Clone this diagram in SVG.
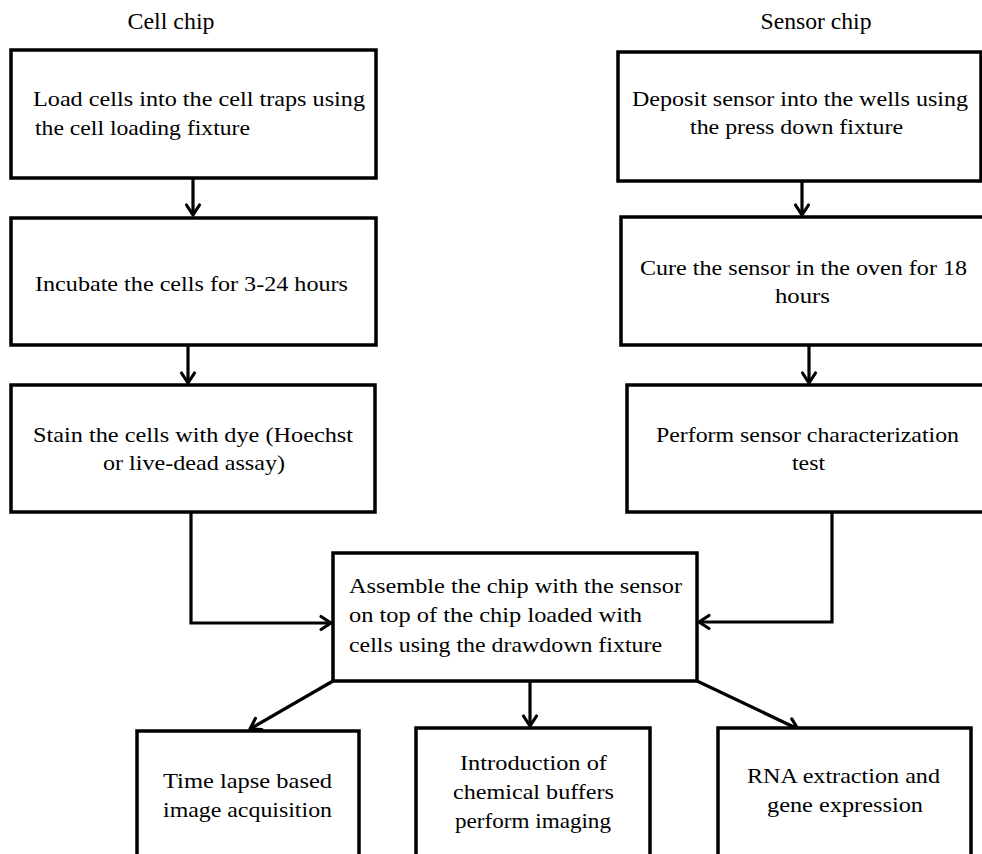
<svg xmlns="http://www.w3.org/2000/svg" width="982" height="854" viewBox="0 0 982 854">
<style>
.box{fill:#fff;stroke:#000;stroke-width:3.5}
.t{font-family:"Liberation Serif","Times New Roman",serif;font-size:22px;fill:#000}
.h{font-size:24px}
.c{text-anchor:middle}
.con{fill:none;stroke:#000;stroke-width:3.2}
</style>
<defs>
<marker id="arr" markerUnits="userSpaceOnUse" markerWidth="18" markerHeight="18" refX="13" refY="9" orient="auto">
<path d="M3,2.5 L13,9 L3,15.5" fill="none" stroke="#000" stroke-width="3.2" stroke-linecap="round" stroke-linejoin="round"/>
</marker>
</defs>
<rect width="982" height="854" fill="#fff"/>
<text class="t h c" x="171" y="29" textLength="87" lengthAdjust="spacingAndGlyphs">Cell chip</text>
<text class="t h c" x="816" y="29" textLength="111" lengthAdjust="spacingAndGlyphs">Sensor chip</text>
<g id="connectors">
<path class="con" d="M193,178 L193,215" marker-end="url(#arr)"/>
<path class="con" d="M188,345 L188,383" marker-end="url(#arr)"/>
<path class="con" d="M802,181 L802,215" marker-end="url(#arr)"/>
<path class="con" d="M809,345 L809,383" marker-end="url(#arr)"/>
<path class="con" d="M191,512 L191,623 L331,623" marker-end="url(#arr)"/>
<path class="con" d="M832,512 L832,622 L699,622" marker-end="url(#arr)"/>
<path class="con" d="M333,681 L250,729" marker-end="url(#arr)"/>
<path class="con" d="M530,681 L530,726" marker-end="url(#arr)"/>
<path class="con" d="M697,681 L798,729" marker-end="url(#arr)"/>
</g>
<g id="load">
<rect class="box" x="11" y="50" width="365" height="128"/>
<text class="t" x="33" y="106" textLength="332" lengthAdjust="spacingAndGlyphs">Load cells into the cell traps using</text>
<text class="t" x="35" y="135" textLength="215" lengthAdjust="spacingAndGlyphs">the cell loading fixture</text>
</g>
<g id="incubate">
<rect class="box" x="11" y="218" width="365" height="127"/>
<text class="t" x="35" y="291" textLength="313" lengthAdjust="spacingAndGlyphs">Incubate the cells for 3-24 hours</text>
</g>
<g id="stain">
<rect class="box" x="11" y="385" width="364" height="127"/>
<text class="t" x="33" y="442" textLength="320" lengthAdjust="spacingAndGlyphs">Stain the cells with dye (Hoechst</text>
<text class="t" x="103" y="470" textLength="182" lengthAdjust="spacingAndGlyphs">or live-dead assay)</text>
</g>
<g id="deposit">
<rect class="box" x="618" y="52" width="363" height="129"/>
<text class="t" x="632" y="106" textLength="336" lengthAdjust="spacingAndGlyphs">Deposit sensor into the wells using</text>
<text class="t" x="690" y="134" textLength="213" lengthAdjust="spacingAndGlyphs">the press down fixture</text>
</g>
<g id="cure">
<rect class="box" x="621" y="217" width="365" height="128"/>
<text class="t" x="640" y="275" textLength="327" lengthAdjust="spacingAndGlyphs">Cure the sensor in the oven for 18</text>
<text class="t" x="775" y="303" textLength="55" lengthAdjust="spacingAndGlyphs">hours</text>
</g>
<g id="perform">
<rect class="box" x="627" y="385" width="360" height="127"/>
<text class="t" x="656" y="442" textLength="303" lengthAdjust="spacingAndGlyphs">Perform sensor characterization</text>
<text class="t" x="792" y="470" textLength="33" lengthAdjust="spacingAndGlyphs">test</text>
</g>
<g id="assemble">
<rect class="box" x="333" y="553" width="364" height="128"/>
<text class="t" x="349" y="593" textLength="333" lengthAdjust="spacingAndGlyphs">Assemble the chip with the sensor</text>
<text class="t" x="349" y="622" textLength="293" lengthAdjust="spacingAndGlyphs">on top of  the chip loaded with</text>
<text class="t" x="349" y="652" textLength="313" lengthAdjust="spacingAndGlyphs">cells using the drawdown fixture</text>
</g>
<g id="timelapse">
<rect class="box" x="137" y="731" width="222" height="140"/>
<text class="t" x="163" y="788" textLength="169" lengthAdjust="spacingAndGlyphs">Time lapse based</text>
<text class="t" x="163" y="817" textLength="169" lengthAdjust="spacingAndGlyphs">image acquisition</text>
</g>
<g id="chemical">
<rect class="box" x="416" y="728" width="234" height="140"/>
<text class="t" x="460" y="770" textLength="147" lengthAdjust="spacingAndGlyphs">Introduction of</text>
<text class="t" x="453" y="799" textLength="161" lengthAdjust="spacingAndGlyphs">chemical buffers</text>
<text class="t" x="455" y="828" textLength="156" lengthAdjust="spacingAndGlyphs">perform imaging</text>
</g>
<g id="rna">
<rect class="box" x="718" y="728" width="253" height="140"/>
<text class="t" x="747" y="783" textLength="193" lengthAdjust="spacingAndGlyphs">RNA extraction and</text>
<text class="t" x="767" y="812" textLength="156" lengthAdjust="spacingAndGlyphs">gene expression</text>
</g>
</svg>
